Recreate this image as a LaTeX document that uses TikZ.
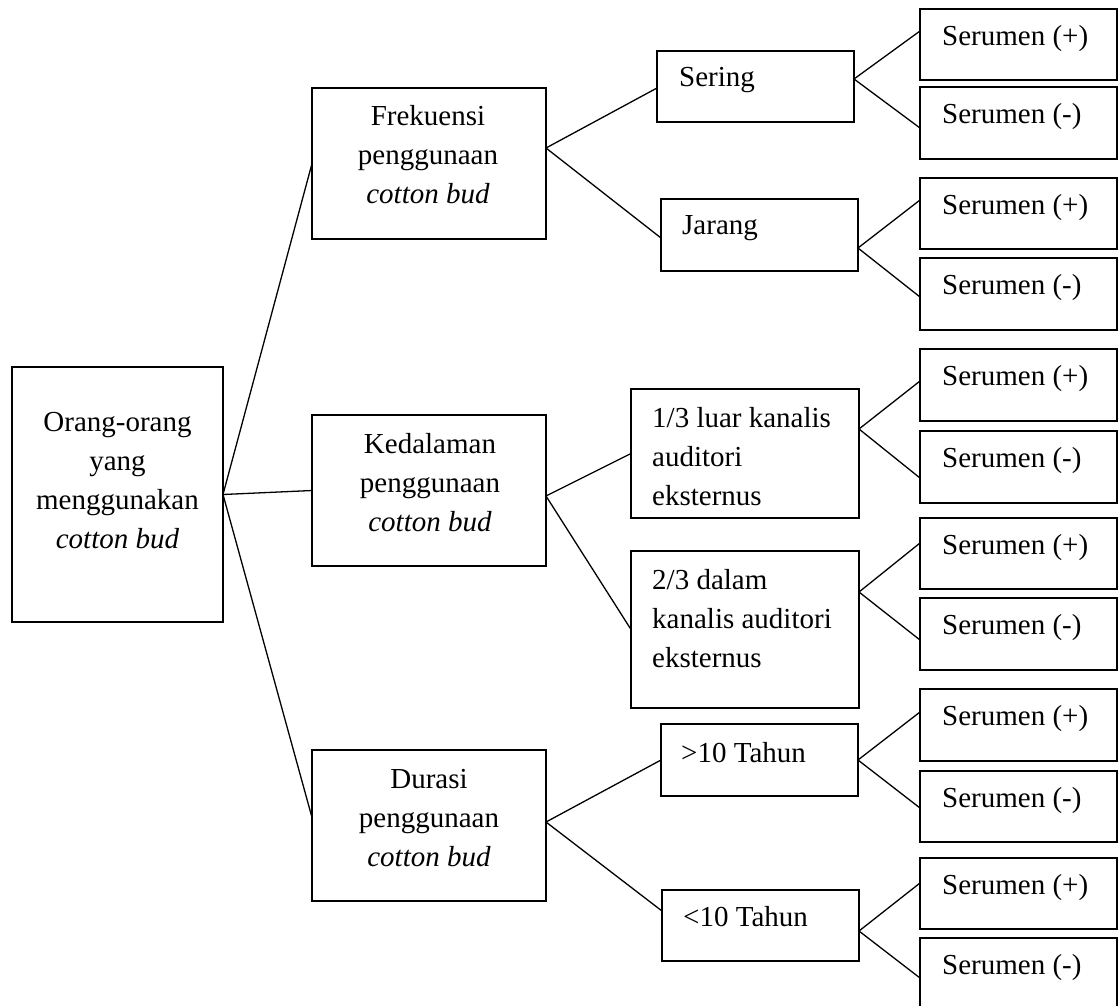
\documentclass[tikz,border=0pt]{standalone}
\usepackage{fontspec}
\setmainfont{Liberation Serif}
\begin{document}
\begin{tikzpicture}[x=1pt,y=-1pt,
  box/.style={draw, line width=2pt, inner sep=0pt, outer sep=0pt},
  lbl/.style={font=\fontsize{29}{39}\selectfont, inner sep=0pt, align=center},
  lbll/.style={font=\fontsize{29}{39}\selectfont, inner sep=0pt, align=left, anchor=west},
  link/.style={line width=1.3pt}]
\useasboundingbox (0,0) rectangle (1119,1005);
\clip (0,0) rectangle (1119,1005);

% root
\node[box, minimum width=211pt, minimum height=255pt] (root) at (117.5,494.5) {};
\node[lbl] (rootT) at (117.5,480.5) {Orang-orang\\yang\\menggunakan\\\textit{cotton bud}};

% level 1
\node[box, minimum width=234pt, minimum height=151pt] (F) at (429,163.5) {};
\node[lbl] (FT) at (428,155) {Frekuensi\\penggunaan\\\textit{cotton bud}};
\node[box, minimum width=234pt, minimum height=151pt] (K) at (429,490.5) {};
\node[lbl] (KT) at (430,482.5) {Kedalaman\\penggunaan\\\textit{cotton bud}};
\node[box, minimum width=234pt, minimum height=151pt] (D) at (429,825.5) {};
\node[lbl] (DT) at (429,818.5) {Durasi\\penggunaan\\\textit{cotton bud}};

% level 2
\node[box, minimum width=197pt, minimum height=71pt] (S) at (755.5,86.5) {};
\node[lbll] (ST) at (679,80) {Sering};
\node[box, minimum width=197pt, minimum height=72pt] (J) at (759.5,235) {};
\node[lbll] (JT) at (682,228) {Jarang};
\node[box, minimum width=228pt, minimum height=129pt] (L) at (745,453.5) {};
\node[lbll] (LT) at (652,456.5) {1/3 luar kanalis\\auditori\\eksternus};
\node[box, minimum width=228pt, minimum height=157pt] (M) at (745,629.5) {};
\node[lbll] (MT) at (652,618.5) {2/3 dalam\\kanalis auditori\\eksternus};
\node[box, minimum width=197pt, minimum height=72pt] (G) at (759.5,760) {};
\node[lbll] (GT) at (681,753) {>10 Tahun};
\node[box, minimum width=197pt, minimum height=71pt] (T) at (760.5,925.5) {};
\node[lbll] (TT) at (683,917) {<10 Tahun};

% leaves
\foreach \n/\c/\h/\s in {l1/44.5/71/+, l2/123/72/-, l3/213.5/71/+, l4/294/72/-,
                         l5/385/72/+, l6/467/72/-, l7/553.5/71/+, l8/634/72/-,
                         l9/725/72/+, l10/806.5/71/-, l11/893.5/71/+, l12/974/72/-}{
  \node[box, minimum width=197pt, minimum height=\h pt] (\n) at (1018.5,\c) {};
  \node[lbll] (\n T) at (942,\c-6) {Serumen (\s)};
}

% connectors level 0 -> 1
\draw[link] (root.east) -- (F.west);
\draw[link] (root.east) -- (K.west);
\draw[link] (root.east) -- ([yshift=8pt]D.west);

% level 1 -> 2
\coordinate (Fv) at ([yshift=15.5pt]F.east);
\coordinate (Kv) at ([yshift=-5.5pt]K.east);
\coordinate (Dv) at ([yshift=3.5pt]D.east);
\draw[link] ([yshift=-1.5pt]S.west) -- (Fv) -- ([yshift=-3pt]J.west);
\draw[link] (L.west) -- (Kv) -- (M.west);
\draw[link] (G.west) -- (Dv) -- ([yshift=14.5pt]T.west);

% level 2 -> leaves
\coordinate (Sv) at ([yshift=7.5pt]S.east);
\coordinate (Jv) at ([yshift=-13pt]J.east);
\coordinate (Lv) at ([yshift=24.5pt]L.east);
\coordinate (Mv) at ([yshift=37.5pt]M.east);
\coordinate (Gv) at (G.east);
\coordinate (Tv) at ([yshift=-5.5pt]T.east);
\draw[link] ([yshift=13.5pt]l1.west) -- (Sv) -- ([yshift=-5pt]l2.west);
\draw[link] ([yshift=13.5pt]l3.west) -- (Jv) -- ([yshift=-3pt]l4.west);
\draw[link] ([yshift=4pt]l5.west) -- (Lv) -- ([yshift=-11pt]l6.west);
\draw[link] ([yshift=10.5pt]l7.west) -- (Mv) -- ([yshift=-6pt]l8.west);
\draw[link] ([yshift=13pt]l9.west) -- (Gv) -- ([yshift=-1.5pt]l10.west);
\draw[link] ([yshift=10.5pt]l11.west) -- (Tv) -- ([yshift=-4pt]l12.west);
\end{tikzpicture}
\end{document}
